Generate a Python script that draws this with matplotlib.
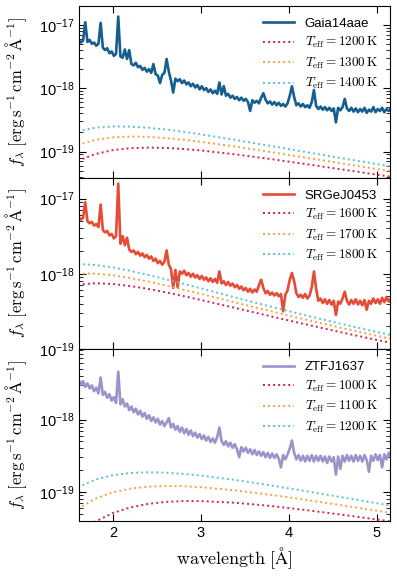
import numpy as np
import matplotlib
matplotlib.use("Agg")
import matplotlib.pyplot as plt

plt.rcParams["font.family"] = ["Liberation Sans", "DejaVu Sans"]
plt.rcParams["mathtext.fontset"] = "custom"
plt.rcParams["mathtext.rm"] = "Liberation Sans"
plt.rcParams["mathtext.it"] = "Liberation Sans:italic"
plt.rcParams["mathtext.bf"] = "Liberation Sans:bold"

# wavelength grid of the spectra (micron, labelled as in the original)
WAVE = [
    1.61, 1.635, 1.66, 1.685, 1.71, 1.735, 1.76, 1.785, 1.81, 1.835,
    1.86, 1.885, 1.91, 1.935, 1.96, 1.985, 2.01, 2.035, 2.06, 2.085,
    2.11, 2.135, 2.16, 2.185, 2.21, 2.235, 2.26, 2.285, 2.31, 2.335,
    2.36, 2.385, 2.41, 2.435, 2.46, 2.485, 2.51, 2.535, 2.56, 2.585,
    2.61, 2.635, 2.66, 2.685, 2.71, 2.735, 2.76, 2.785, 2.81, 2.835,
    2.86, 2.885, 2.91, 2.935, 2.96, 2.985, 3.01, 3.035, 3.06, 3.085,
    3.11, 3.135, 3.16, 3.185, 3.21, 3.235, 3.26, 3.285, 3.31, 3.335,
    3.36, 3.385, 3.41, 3.435, 3.46, 3.485, 3.51, 3.535, 3.56, 3.585,
    3.61, 3.635, 3.66, 3.685, 3.71, 3.735, 3.76, 3.785, 3.81, 3.835,
    3.86, 3.885, 3.91, 3.935, 3.96, 3.985, 4.01, 4.035, 4.06, 4.085,
    4.11, 4.135, 4.16, 4.185, 4.21, 4.235, 4.26, 4.285, 4.31, 4.335,
    4.36, 4.385, 4.41, 4.435, 4.46, 4.485, 4.51, 4.535, 4.56, 4.585,
    4.61, 4.635, 4.66, 4.685, 4.71, 4.735, 4.76, 4.785, 4.81, 4.835,
    4.86, 4.885, 4.91, 4.935, 4.96, 4.985, 5.01, 5.035, 5.06, 5.085,
    5.11, 5.135, 5.16]

# log10 f_lambda of the three spectra
LOG_GAIA = [
    -17.24, -17.28, -17.25, -16.96, -17.27, -17.24, -17.30, -17.28, -17.33, -17.30,
    -16.97, -17.36, -17.40, -17.37, -17.45, -17.42, -17.49, -17.46, -16.87, -17.50,
    -17.52, -17.39, -17.54, -17.40, -17.62, -17.64, -17.60, -17.67, -17.65, -17.71,
    -17.68, -17.74, -17.70, -17.76, -17.62, -17.78, -17.80, -17.92, -17.79, -17.76,
    -17.54, -17.74, -17.88, -18.07, -17.85, -17.89, -17.86, -17.92, -17.88, -17.94,
    -17.91, -17.97, -17.93, -17.99, -17.95, -18.02, -17.97, -18.03, -18.00, -18.06,
    -18.02, -18.08, -18.04, -18.09, -17.91, -18.10, -17.97, -18.12, -18.09, -18.15,
    -18.12, -18.17, -18.14, -18.19, -18.15, -18.20, -18.17, -18.22, -18.36, -18.19,
    -18.23, -18.20, -18.24, -18.15, -18.08, -18.18, -18.24, -18.21, -18.26, -18.22,
    -18.27, -18.23, -18.28, -18.25, -18.29, -18.24, -18.12, -17.97, -18.14, -18.27,
    -18.24, -18.29, -18.25, -18.30, -18.27, -18.31, -18.22, -18.03, -18.28, -18.33,
    -18.29, -18.34, -18.30, -18.35, -18.31, -18.36, -18.32, -18.54, -18.31, -18.35,
    -18.30, -18.17, -18.32, -18.36, -18.31, -18.37, -18.32, -18.38, -18.33, -18.37,
    -18.31, -18.39, -18.34, -18.37, -18.30, -18.38, -18.33, -18.36, -18.31, -18.38,
    -18.33, -18.36, -18.32]

LOG_SRGE = [
    -17.24, -17.28, -17.26, -17.05, -17.30, -17.33, -17.31, -17.36, -17.34, -17.38,
    -17.08, -17.42, -17.45, -17.43, -17.49, -17.47, -17.53, -17.50, -16.80, -17.60,
    -17.50, -17.62, -17.52, -17.68, -17.71, -17.69, -17.74, -17.71, -17.76, -17.73,
    -17.78, -17.75, -17.80, -17.77, -17.83, -17.80, -17.86, -17.83, -17.88, -17.84,
    -17.69, -17.88, -17.94, -18.19, -17.95, -18.18, -17.97, -18.00, -17.96, -18.02,
    -17.99, -18.04, -18.00, -18.05, -18.02, -18.07, -18.03, -18.08, -18.05, -18.10,
    -18.06, -18.11, -18.07, -18.12, -17.97, -18.13, -18.10, -18.15, -18.11, -18.16,
    -18.13, -18.18, -18.15, -18.20, -18.17, -18.22, -18.19, -18.24, -18.20, -18.25,
    -18.21, -18.24, -18.15, -18.08, -18.19, -18.26, -18.23, -18.28, -18.25, -18.29,
    -18.26, -18.30, -18.27, -18.50, -18.28, -18.22, -18.08, -17.99, -18.10, -18.26,
    -18.31, -18.28, -18.32, -18.27, -18.33, -18.29, -18.18, -17.97, -18.20, -18.36,
    -18.33, -18.39, -18.34, -18.40, -18.35, -18.41, -18.36, -18.55, -18.37, -18.40,
    -18.33, -18.24, -18.36, -18.41, -18.35, -18.40, -18.34, -18.41, -18.36, -18.42,
    -18.35, -18.48, -18.36, -18.40, -18.33, -18.39, -18.34, -18.40, -18.32, -18.38,
    -18.31, -18.37, -18.33]

LOG_ZTF = [
    -17.45, -17.52, -17.47, -17.55, -17.50, -17.57, -17.53, -17.61, -17.56, -17.64,
    -17.42, -17.66, -17.62, -17.70, -17.65, -17.74, -17.69, -17.77, -17.34, -17.79,
    -17.72, -17.82, -17.78, -17.87, -17.82, -17.90, -17.85, -17.93, -17.88, -17.96,
    -17.91, -17.99, -17.94, -18.02, -17.97, -18.04, -17.99, -18.07, -18.02, -18.09,
    -18.04, -17.98, -18.11, -18.06, -18.14, -18.09, -18.17, -18.11, -18.19, -18.13,
    -18.21, -18.15, -18.23, -18.18, -18.25, -18.20, -18.27, -18.22, -18.29, -18.24,
    -18.31, -18.26, -18.32, -18.24, -18.11, -18.30, -18.35, -18.30, -18.37, -18.32,
    -18.39, -18.34, -18.41, -18.52, -18.38, -18.44, -18.39, -18.46, -18.41, -18.48,
    -18.42, -18.49, -18.44, -18.50, -18.45, -18.52, -18.46, -18.53, -18.47, -18.53,
    -18.48, -18.54, -18.66, -18.49, -18.55, -18.48, -18.40, -18.29, -18.46, -18.55,
    -18.49, -18.57, -18.50, -18.58, -18.50, -18.57, -18.49, -18.58, -18.50, -18.57,
    -18.50, -18.58, -18.51, -18.60, -18.51, -18.58, -18.52, -18.76, -18.51, -18.68,
    -18.50, -18.58, -18.49, -18.57, -18.50, -18.58, -18.49, -18.57, -18.50, -18.58,
    -18.49, -18.56, -18.72, -18.50, -18.57, -18.48, -18.56, -18.49, -18.66, -18.48,
    -18.55, -18.46, -18.52]

# blackbody comparison curves, log10 f_lambda
BB_WAVE = [1.6, 1.8, 2.0, 2.2, 2.4, 2.6, 2.8, 3.0, 3.4, 3.8, 4.2, 4.6, 5.0, 5.2]
BB_GAIA_1200 = [-19.145, -19.039, -18.978, -18.947, -18.938, -18.943, -18.960,
                -18.983, -19.046, -19.120, -19.200, -19.282, -19.365, -19.406]
BB_GAIA_1300 = [-18.895, -18.816, -18.777, -18.764, -18.770, -18.788, -18.814,
                -18.847, -18.924, -19.010, -19.098, -19.188, -19.276, -19.319]
BB_GAIA_1400 = [-18.680, -18.624, -18.604, -18.607, -18.625, -18.653, -18.688,
                -18.729, -18.819, -18.913, -19.010, -19.105, -19.198, -19.243]
BB_SRGE_1600 = [-18.144, -18.127, -18.137, -18.164, -18.202, -18.247, -18.297,
                -18.349, -18.458, -18.568, -18.676, -18.781, -18.881, -18.930]
BB_SRGE_1700 = [-17.999, -17.999, -18.021, -18.058, -18.104, -18.156, -18.211,
                -18.268, -18.385, -18.501, -18.613, -18.722, -18.826, -18.876]
BB_SRGE_1800 = [-17.871, -17.884, -17.917, -17.962, -18.016, -18.074, -18.134,
                -18.195, -18.319, -18.440, -18.557, -18.668, -18.775, -18.826]
BB_ZTF_1000 = [-19.586, -19.408, -19.289, -19.212, -19.164, -19.137, -19.125,
               -19.125, -19.149, -19.193, -19.250, -19.313, -19.379, -19.414]
BB_ZTF_1100 = [-19.231, -19.092, -19.005, -18.953, -18.926, -18.917, -18.920,
               -18.934, -18.979, -19.040, -19.109, -19.183, -19.258, -19.296]
BB_ZTF_1200 = [-18.935, -18.829, -18.768, -18.737, -18.728, -18.733, -18.750,
               -18.773, -18.836, -18.910, -18.990, -19.072, -19.155, -19.196]

NAMES = ["Gaia14aae", "SRGeJ0453", "ZTFJ1637"]
SPEC_COLORS = ["#155e8e", "#e64b35", "#9b93c9"]
BB_COLORS = ["#d6204e", "#ffa03c", "#52c5d6"]

panels = [
    (NAMES[0], LOG_GAIA, SPEC_COLORS[0],
     [(1200, BB_GAIA_1200), (1300, BB_GAIA_1300), (1400, BB_GAIA_1400)],
     (-19.41, -16.70)),
    (NAMES[1], LOG_SRGE, SPEC_COLORS[1],
     [(1600, BB_SRGE_1600), (1700, BB_SRGE_1700), (1800, BB_SRGE_1800)],
     (-19.005, -16.72)),
    (NAMES[2], LOG_ZTF, SPEC_COLORS[2],
     [(1000, BB_ZTF_1000), (1100, BB_ZTF_1100), (1200, BB_ZTF_1200)],
     (-19.40, -17.03)),
]

fig, axes = plt.subplots(3, 1, sharex=True, figsize=(3.97, 5.76), dpi=100)
fig.subplots_adjust(left=0.199, right=0.982, top=0.99, bottom=0.0955, hspace=0)

wave = np.array(WAVE)
bbw = np.array(BB_WAVE)
ylab = r"$f_\lambda\ [\mathrm{erg\,s^{-1}\,cm^{-2}\,\AA^{-1}}]$"

for ax, (name, spec, col, bbs, (lo, hi)) in zip(axes, panels):
    ax.plot(wave, 10 ** np.array(spec), color=col, lw=1.9, label=name)
    for (temp, vals), bc in zip(bbs, BB_COLORS):
        ax.plot(bbw, 10 ** np.array(vals), color=bc, lw=1.4, ls=(0, (1, 1.6)),
                label=rf"$T_{{\rm eff}} = {temp}\,{{\rm K}}$")
    ax.set_yscale("log")
    ax.set_ylim(10 ** lo, 10 ** hi)
    ax.set_xlim(1.614, 5.148)
    ax.tick_params(which="both", direction="in", top=True, right=True,
                   labelsize=10.5)
    ax.tick_params(which="major", length=5, width=0.8)
    ax.tick_params(which="minor", length=2.8, width=0.6)
    for s in ax.spines.values():
        s.set_linewidth(0.8)
    ax.set_ylabel(ylab, fontsize=12, math_fontfamily="cm")
    ax.yaxis.set_label_coords(-0.16, 0.5)
    leg = ax.legend(loc="upper right", frameon=False, fontsize=9.5,
                    handlelength=2.4, borderaxespad=0.5, labelspacing=0.4)
    for t in leg.get_texts():
        t.set_math_fontfamily("cm")

axes[-1].set_xticks([2, 3, 4, 5])
axes[-1].xaxis.set_minor_locator(matplotlib.ticker.NullLocator())
axes[-1].set_xlabel(r"$\mathrm{wavelength}\ [\mathrm{\AA}]$",
                    fontsize=13, math_fontfamily="cm")

fig.savefig("out.png", dpi=100, facecolor="white")
